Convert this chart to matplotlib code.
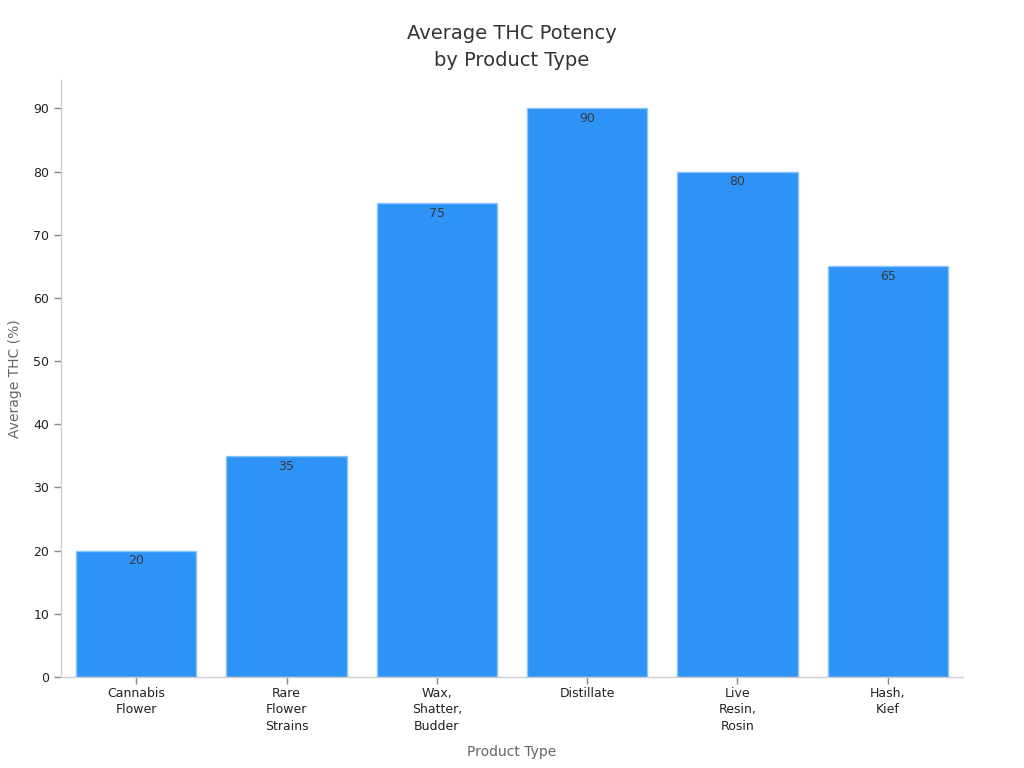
import matplotlib
matplotlib.use('Agg')
import matplotlib.pyplot as plt

categories = ['Cannabis\nFlower', 'Rare\nFlower\nStrains', 'Wax,\nShatter,\nBudder',
              'Distillate', 'Live\nResin,\nRosin', 'Hash,\nKief']
thc = [20, 35, 75, 90, 80, 65]
yticks = [0, 10, 20, 30, 40, 50, 60, 70, 80, 90]

plt.rcParams['font.family'] = ['DejaVu Sans']

fig = plt.figure(figsize=(10.24, 7.68), dpi=100)
ax = fig.add_axes([0.0596, 0.1185, 0.8808, 0.7773])

x = range(len(categories))
bars = ax.bar(x, thc, width=0.8, color='#2E93F7', edgecolor='#8CC4FA', linewidth=1)
for b, v in zip(bars, thc):
    ax.text(b.get_x() + b.get_width() / 2, v - 0.6, str(v), ha='center', va='top',
            fontsize=9, color='#3a3a3a')

ax.set_xlim(-0.5, 5.5)
ax.set_ylim(0, 94.5)
ax.set_xticks(list(x))
ax.set_xticklabels(categories, fontsize=9, color='#222222', linespacing=1.35)
ax.set_yticks(yticks)
ax.set_yticklabels([str(t) for t in yticks], fontsize=9, color='#222222')
ax.tick_params(axis='both', color='#888888', length=5, width=1)
ax.tick_params(axis='x', pad=2)

for s in ['top', 'right']:
    ax.spines[s].set_visible(False)
for s in ['left', 'bottom']:
    ax.spines[s].set_color('#cccccc')
    ax.spines[s].set_linewidth(1)

ax.set_xlabel('Product Type', fontsize=10, color='#666666', labelpad=9)
ax.set_ylabel('Average THC (%)', fontsize=10, color='#666666', labelpad=8)
ax.set_title('Average THC Potency\nby Product Type', fontsize=14, color='#333333',
             pad=10, linespacing=1.55)

fig.savefig('out.png', dpi=100)
